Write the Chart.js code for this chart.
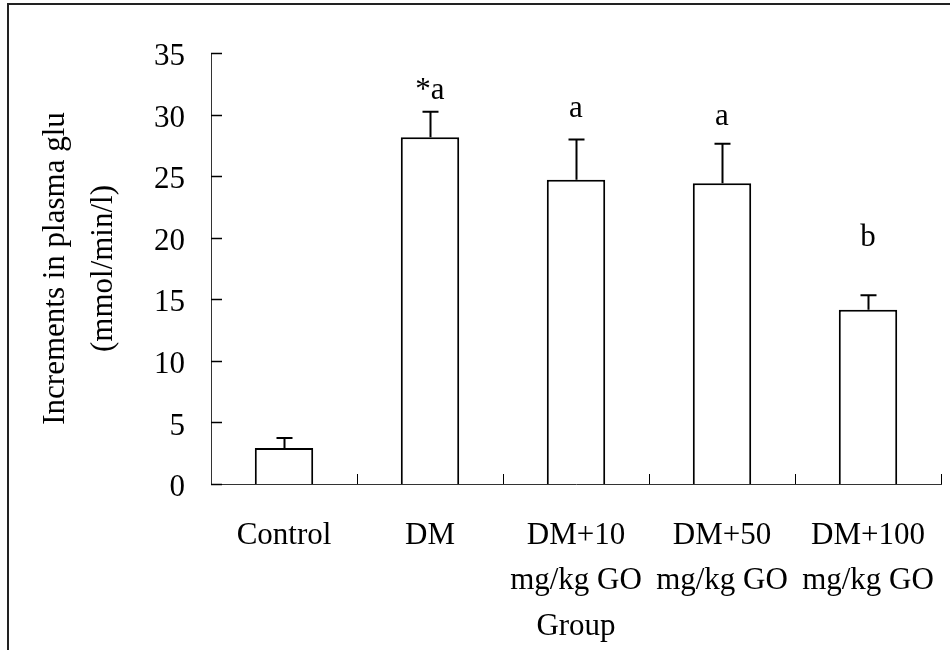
<!DOCTYPE html>
<html><head><meta charset="utf-8">
<script src="https://cdn.jsdelivr.net/npm/chart.js@4"></script>
<style>html,body{margin:0;padding:0;background:#fff;}#wrap{width:950px;height:650px;position:relative;}</style>
</head><body><div id="wrap"><canvas id="c" width="950" height="650"></canvas></div>
<script>
const categories = ['Control', 'DM', ['DM+10', 'mg/kg GO'], ['DM+50', 'mg/kg GO'], ['DM+100', 'mg/kg GO']];
const means = [2.92, 28.15, 24.7, 24.42, 14.16];
const sem = [0.82, 2.07, 3.27, 3.22, 1.16];
const letters = ['', '*a', 'a', 'a', 'b'];
const letterY = [null, 31.25, 29.8, 29.12, 19.35];
const yMin = 0, yMax = 35, yStep = 5;
const yTitle = ['Increments in plasma glu', '(mmol/min/l)'];
const xTitle = 'Group';

const FONT = 'Liberation Serif, Times New Roman, serif';
const FS = 31;

const extras = {
  id: 'extras',
  beforeDraw(chart) {
    const ctx = chart.ctx;
    ctx.save();
    ctx.fillStyle = '#222';
    ctx.fillRect(7, 3, chart.width - 7, 2);
    ctx.fillRect(7, 3, 2, chart.height - 3);
    ctx.restore();
  },
  afterDatasetsDraw(chart) {
    const ctx = chart.ctx;
    const xs = chart.scales.x, ys = chart.scales.y;
    const area = chart.chartArea;
    const meta = chart.getDatasetMeta(0);
    ctx.save();
    ctx.strokeStyle = '#000';
    ctx.lineWidth = 1.5;
    ys.ticks.forEach(t => {
      const py = Math.round(ys.getPixelForValue(t.value)) + 0.5;
      ctx.beginPath(); ctx.moveTo(area.left, py); ctx.lineTo(area.left + 11, py); ctx.stroke();
    });
    ctx.lineWidth = 1;
    for (let i = 0; i < categories.length; i++) {
      const px = Math.round(xs.getPixelForValue(i + 0.5)) + 0.5;
      ctx.beginPath(); ctx.moveTo(px, area.bottom); ctx.lineTo(px, area.bottom - 10); ctx.stroke();
    }
    ctx.lineWidth = 2;
    meta.data.forEach((bar, i) => {
      const x = Math.round(bar.x) + 0.5;
      const yb = ys.getPixelForValue(means[i]);
      const yt = ys.getPixelForValue(means[i] + sem[i]);
      ctx.beginPath();
      ctx.moveTo(x, yb); ctx.lineTo(x, yt);
      ctx.moveTo(x - 8, yt); ctx.lineTo(x + 8, yt);
      ctx.stroke();
    });
    ctx.fillStyle = '#000';
    ctx.font = FS + 'px ' + FONT;
    ctx.textAlign = 'center';
    ctx.textBaseline = 'alphabetic';
    meta.data.forEach((bar, i) => {
      if (!letters[i]) return;
      ctx.fillText(letters[i], bar.x, ys.getPixelForValue(letterY[i]));
    });
    ctx.restore();
  }
};

new Chart(document.getElementById('c'), {
  type: 'bar',
  data: {
    labels: categories,
    datasets: [{
      data: means,
      backgroundColor: '#fff',
      borderColor: '#000',
      borderWidth: 2,
      categoryPercentage: 1,
      barPercentage: 0.4
    }]
  },
  options: {
    responsive: false,
    animation: false,
    devicePixelRatio: 1,
    layout: { padding: { top: 53, right: 9, left: 0, bottom: 0 } },
    plugins: { legend: { display: false }, tooltip: { enabled: false } },
    scales: {
      x: {
        type: 'category',
        offset: true,
        grid: { display: false, drawTicks: false, tickLength: 0 },
        border: { display: true, color: '#333', width: 1 },
        ticks: { color: '#000', font: { family: FONT, size: FS, lineHeight: 1.45 }, padding: 29, maxRotation: 0, minRotation: 0, autoSkip: false },
        title: { display: true, text: xTitle, color: '#000', font: { family: FONT, size: FS, lineHeight: 1.45 }, padding: { top: 0, bottom: 1 } },
        afterFit(s) { s.height = 166; s.paddingLeft = 0; s.paddingRight = 0; }
      },
      y: {
        min: yMin, max: yMax,
        grid: { display: false, drawTicks: false, tickLength: 0 },
        border: { display: true, color: '#333', width: 1 },
        ticks: { stepSize: yStep, color: '#000', font: { family: FONT, size: FS }, padding: 26, labelOffset: 4 },
        title: { display: true, text: yTitle, color: '#000', font: { family: FONT, size: FS, lineHeight: 1.55 }, padding: { top: 32, bottom: 0 } },
        afterFit(s) { s.width = 211; s.paddingTop = 0; s.paddingBottom = 0; }
      }
    }
  },
  plugins: [extras]
});
</script>
</body></html>
